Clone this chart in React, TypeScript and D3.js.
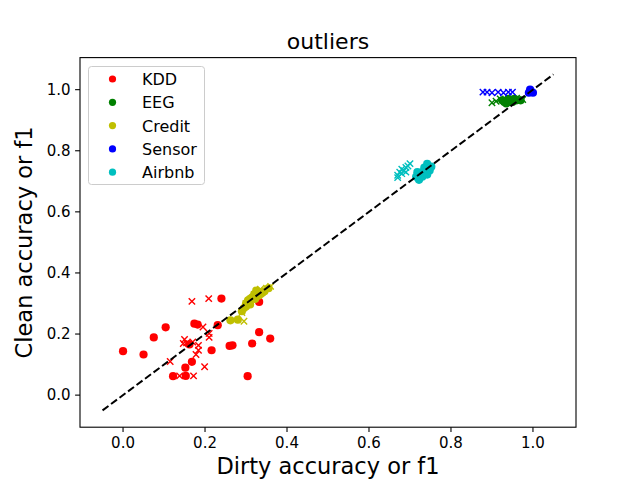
import React from "react";
import * as d3 from "d3";

type Pt = [number, number];

// dirty, clean pairs
const kddCircles: Pt[] = [
  [0.0, 0.144], [0.05, 0.133], [0.075, 0.189], [0.104, 0.222], [0.122, 0.062],
  [0.153, 0.063], [0.152, 0.09], [0.168, 0.109], [0.162, 0.166], [0.174, 0.234],
  [0.182, 0.231], [0.231, 0.229], [0.216, 0.147], [0.24, 0.316], [0.26, 0.161],
  [0.267, 0.163], [0.315, 0.169], [0.332, 0.206], [0.359, 0.185], [0.304, 0.062],
  [0.332, 0.305],
];
const kddCrosses: Pt[] = [
  [0.168, 0.307], [0.209, 0.316], [0.195, 0.223], [0.21, 0.202], [0.21, 0.189],
  [0.15, 0.182], [0.155, 0.171], [0.17, 0.174], [0.184, 0.163], [0.184, 0.147],
  [0.178, 0.133], [0.115, 0.11], [0.199, 0.093], [0.172, 0.063], [0.138, 0.063],
  [0.147, 0.169],
];
const eegCircles: Pt[] = [
  [0.925, 0.965], [0.93, 0.96], [0.935, 0.955], [0.94, 0.965], [0.94, 0.97],
  [0.945, 0.96], [0.95, 0.96], [0.955, 0.97], [0.96, 0.965], [0.97, 0.965],
];
const eegCrosses: Pt[] = [
  [0.9, 0.957], [0.91, 0.962], [0.92, 0.97], [0.96, 0.972], [0.975, 0.968],
];
const creditCircles: Pt[] = [
  [0.262, 0.245], [0.28, 0.247], [0.29, 0.275], [0.295, 0.285], [0.3, 0.29],
  [0.3, 0.3], [0.305, 0.31], [0.31, 0.297], [0.315, 0.32], [0.32, 0.33],
  [0.325, 0.342], [0.33, 0.325], [0.335, 0.33], [0.34, 0.335], [0.345, 0.34],
  [0.355, 0.35], [0.31, 0.315], [0.322, 0.315],
];
const creditCrosses: Pt[] = [
  [0.295, 0.242], [0.29, 0.27], [0.3, 0.3], [0.32, 0.33], [0.335, 0.347],
  [0.35, 0.35], [0.36, 0.356],
];
const sensorCircles: Pt[] = [
  [0.99, 0.99], [0.995, 0.995], [1.0, 0.99], [0.993, 1.0],
];
const sensorCrosses: Pt[] = [
  [0.878, 0.992], [0.888, 0.992], [0.9, 0.99], [0.915, 0.992], [0.928, 0.99],
  [0.94, 0.992], [0.95, 0.992],
];
const airbnbCircles: Pt[] = [
  [0.715, 0.715], [0.722, 0.705], [0.73, 0.73], [0.735, 0.745], [0.742, 0.757],
  [0.748, 0.735], [0.752, 0.748], [0.73, 0.715], [0.742, 0.722], [0.718, 0.73],
];
const airbnbCrosses: Pt[] = [
  [0.67, 0.72], [0.675, 0.73], [0.68, 0.74], [0.685, 0.735], [0.69, 0.745],
  [0.695, 0.75], [0.68, 0.725], [0.69, 0.73], [0.7, 0.758], [0.67, 0.712],
];

const series = [
  { name: "KDD", color: "#ff0000", circles: kddCircles, crosses: kddCrosses },
  { name: "EEG", color: "#008000", circles: eegCircles, crosses: eegCrosses },
  { name: "Credit", color: "#bfbf00", circles: creditCircles, crosses: creditCrosses },
  { name: "Sensor", color: "#0000ff", circles: sensorCircles, crosses: sensorCrosses },
  { name: "Airbnb", color: "#00bfbf", circles: airbnbCircles, crosses: airbnbCrosses },
];

const ticks = [0, 0.2, 0.4, 0.6, 0.8, 1.0];
const diag: Pt[] = [[-0.05, -0.05], [1.05, 1.05]];

const W = 640, H = 480;
const L = 80, R = 576, T = 57.6, B = 427.2;
const font = "DejaVu Sans, sans-serif";

export default function App() {
  const x = d3.scaleLinear().domain([-0.105, 1.105]).range([L, R]);
  const y = d3.scaleLinear().domain([-0.105, 1.105]).range([B, T]);
  const line = d3.line<Pt>().x((d) => x(d[0])).y((d) => y(d[1]));
  const cs = 3.2;

  return (
    <svg width={W} height={H} style={{ position: "absolute", left: 0, top: 0, background: "#fff" }}>
      <rect width={W} height={H} fill="#fff" />
      {series.map((s) => (
        <g key={s.name}>
          {s.circles.map((d, i) => (
            <circle key={"c" + i} cx={x(d[0])} cy={y(d[1])} r={4.1} fill={s.color} />
          ))}
          {s.crosses.map((d, i) => (
            <path
              key={"x" + i}
              d={`M${x(d[0]) - cs},${y(d[1]) - cs}L${x(d[0]) + cs},${y(d[1]) + cs}M${x(d[0]) - cs},${y(d[1]) + cs}L${x(d[0]) + cs},${y(d[1]) - cs}`}
              stroke={s.color}
              strokeWidth={1.4}
              fill="none"
            />
          ))}
        </g>
      ))}
      <path d={line(diag) ?? ""} stroke="#000" strokeWidth={2} strokeDasharray="7.4,3.2" fill="none" />
      <rect x={L} y={T} width={R - L} height={B - T} fill="none" stroke="#000" strokeWidth={1.1} />
      {ticks.map((t) => (
        <g key={"xt" + t}>
          <line x1={x(t)} x2={x(t)} y1={B} y2={B + 4.9} stroke="#000" strokeWidth={1.1} />
          <text x={x(t)} y={B + 20.5} textAnchor="middle" fontFamily={font} fontSize={15}>
            {t.toFixed(1)}
          </text>
        </g>
      ))}
      {ticks.map((t) => (
        <g key={"yt" + t}>
          <line x1={L - 4.9} x2={L} y1={y(t)} y2={y(t)} stroke="#000" strokeWidth={1.1} />
          <text x={L - 9.5} y={y(t) + 5.3} textAnchor="end" fontFamily={font} fontSize={15}>
            {t.toFixed(1)}
          </text>
        </g>
      ))}
      <text x={(L + R) / 2} y={49} textAnchor="middle" fontFamily={font} fontSize={22}>
        outliers
      </text>
      <text x={(L + R) / 2} y={474} textAnchor="middle" fontFamily={font} fontSize={22.5}>
        Dirty accuracy or f1
      </text>
      <text
        transform={`translate(32,${(T + B) / 2}) rotate(-90)`}
        textAnchor="middle"
        fontFamily={font}
        fontSize={22.5}
      >
        Clean accuracy or f1
      </text>
      <g>
        <rect x={88.5} y={66.5} width={116} height={118} rx={3} fill="#fff" fillOpacity={0.8} stroke="#cccccc" strokeWidth={1} />
        {series.map((s, i) => (
          <g key={"lg" + s.name}>
            <circle cx={112.5} cy={79 + i * 23.3} r={3.6} fill={s.color} />
            <text x={142} y={79 + i * 23.3 + 6} fontFamily={font} fontSize={16}>
              {s.name}
            </text>
          </g>
        ))}
      </g>
    </svg>
  );
}
